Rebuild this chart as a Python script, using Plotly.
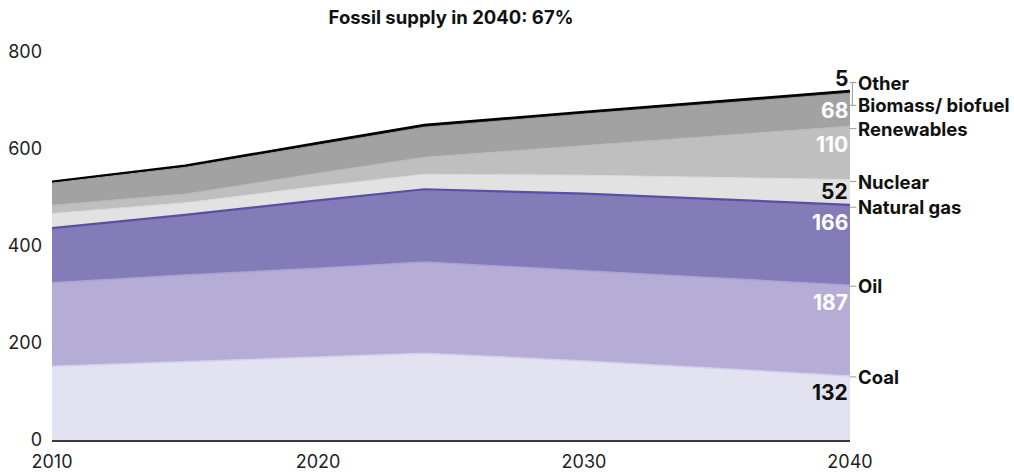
import plotly.graph_objects as go

# Primary energy supply by source (EJ)
years = [2010, 2015, 2020, 2024, 2030, 2040]
coal = [152, 161, 171, 179, 163, 132]
oil = [172, 179, 183, 188, 186, 187]
gas = [113, 124, 140, 150, 159, 166]
nuclear = [30, 25, 29, 31, 38, 52]
renewables = [17, 18, 27, 35, 61, 110]
biomass = [46, 55, 58, 62, 65, 68]
other = [3, 4, 5, 5, 5, 5]

names = ["Coal", "Oil", "Natural gas", "Nuclear", "Renewables", "Biomass/ biofuel", "Other"]
series = [coal, oil, gas, nuclear, renewables, biomass, other]

fills = ["#e3e2f1", "#b5add6", "#847bb9", "#e1e2e1", "#c0bfc0", "#a2a2a2", "#141414"]
edges = ["#d3cfe9", "#aaa2d0", "#5a4fa6", "#d8d9d8", "#b9b8b9", "#9a9a9a", "#000000"]
edge_w = [1.5, 1.5, 2.2, 1, 1, 1, 2]

# label styling: value text colour and vertical nudges (data units) from layer top
value_colors = ["#111111", "white", "white", "#111111", "white", "white", "#111111"]
value_nudge = [-35, -35, -36, -24, -37, -35, 25]
name_nudge = [-2, -2, -5, -4, -5, -25, 17]

FONT = "Inter"
fig = go.Figure()

for nm, vals, fc, ec, w in zip(names, series, fills, edges, edge_w):
    fig.add_trace(go.Scatter(
        x=years, y=vals, name=nm, mode="lines", stackgroup="one",
        fillcolor=fc, line=dict(color=ec, width=w), hoverinfo="skip",
    ))

# cumulative tops at the final year
last = [s[-1] for s in series]
tops = []
acc = 0
for v in last:
    acc += v
    tops.append(acc)

YMAX = 800
for i, nm in enumerate(names):
    # value at the right edge of the area
    fig.add_annotation(
        x=years[-1], y=tops[i] + value_nudge[i], xref="x", yref="y",
        text=f"<b>{last[i]}</b>", showarrow=False, xanchor="right", yanchor="middle",
        font=dict(family=FONT, size=21, color=value_colors[i]),
    )
    # series name outside the plot
    ny = tops[i] + name_nudge[i]
    fig.add_annotation(
        x=1, y=ny, xref="paper", yref="y", xshift=6,
        text=f"<b>{nm}</b>", showarrow=False, xanchor="left", yanchor="middle",
        font=dict(family=FONT, size=18.5, color="#111111"),
    )
    # short leader tick
    fig.add_shape(
        type="line", xref="paper", yref="paper",
        x0=1.0, x1=1.008, y0=ny / YMAX, y1=ny / YMAX,
        line=dict(color="#9a9a9a", width=1),
    )

# bracket joining the two upper labels
fig.add_shape(
    type="line", xref="paper", yref="paper",
    x0=1.003, x1=1.003,
    y0=(tops[5] + name_nudge[5]) / YMAX, y1=(tops[6] + name_nudge[6]) / YMAX,
    line=dict(color="#9a9a9a", width=1),
)

fig.update_layout(
    width=1014, height=473,
    margin=dict(l=52, r=164, t=52, b=33, autoexpand=False),
    paper_bgcolor="white", plot_bgcolor="white",
    showlegend=False,
    title=dict(
        text="<b>Fossil supply in 2040: 67%</b>",
        x=0.5, xref="paper", xanchor="center",
        y=1 - 18 / 473, yref="container", yanchor="middle",
        font=dict(family=FONT, size=18.5, color="#111111"),
    ),
    font=dict(family=FONT),
)

fig.update_xaxes(
    range=[2010, 2040], tickvals=[2010, 2020, 2030, 2040],
    showgrid=False, zeroline=False, automargin=False,
    showline=True, linecolor="#3a3a3a", linewidth=1.5,
    ticks="", ticklabelstandoff=5,
    tickfont=dict(family=FONT, size=18, color="#222222"),
)
fig.update_yaxes(
    range=[0, YMAX], tickvals=[0, 200, 400, 600, 800],
    showgrid=False, zeroline=False, showline=False, automargin=False,
    ticks="", ticklabelstandoff=9,
    tickfont=dict(family=FONT, size=18, color="#222222"),
)

fig.write_html("out.html")
